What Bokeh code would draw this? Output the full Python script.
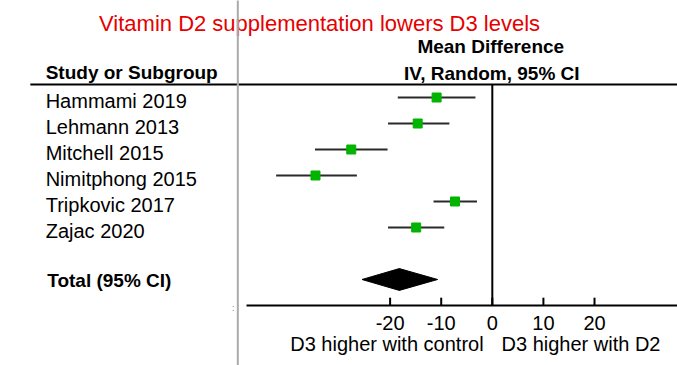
from bokeh.plotting import figure
from bokeh.models import Range1d, ColumnDataSource
from bokeh.core.properties import value
from bokeh.embed import file_html
from bokeh.resources import INLINE

# ---- data ----
studies = ["Hammami 2019", "Lehmann 2013", "Mitchell 2015", "Nimitphong 2015",
           "Tripkovic 2017", "Zajac 2020"]
mean_diff = [-10.9, -14.6, -27.6, -34.6, -7.3, -14.9]
ci_low = [-18.5, -20.4, -34.7, -42.3, -11.5, -20.4]
ci_high = [-3.3, -8.4, -20.5, -26.5, -3.0, -9.4]
total_label = "Total (95% CI)"
total_mean = -18.2
total_low = -25.5
total_high = -10.7
ticks = [-20, -10, 0, 10, 20]
tick_labels = ["-20", "-10", "0", "10", "20"]
title_text = "Vitamin D2 supplementation lowers D3 levels"
left_note = "D3 higher with control"
right_note = "D3 higher with D2"

FONT = value("Liberation Sans")

rows = list(range(len(studies)))
total_row = len(studies) + 1
axis_row = total_row + 1

p = figure(width=677, height=365, x_range=Range1d(-96.24, 36.24),
           y_range=Range1d(10.308, -3.731), output_backend="svg",
           toolbar_location=None, min_border=0,
           x_axis_type=None, y_axis_type=None)
p.grid.visible = False
p.outline_line_color = None
p.background_fill_color = "white"

X_LEFT = -87.4
X_END = 40

# title
p.text(x=[-33.8], y=[-2.85], text=[title_text], text_font=FONT,
       text_font_size="22px", text_color="#e60000",
       text_align="center", text_baseline="middle")

# headers
p.text(x=[-0.3], y=[-1.97], text=["Mean Difference"], text_font=FONT,
       text_font_size="19px", text_font_style="bold", text_color="black",
       text_align="center", text_baseline="middle")
p.text(x=[-0.1], y=[-0.93], text=["IV, Random, 95% CI"], text_font=FONT,
       text_font_size="19px", text_font_style="bold", text_color="black",
       text_align="center", text_baseline="middle")
p.text(x=[X_LEFT], y=[-0.97], text=["Study or Subgroup"], text_font=FONT,
       text_font_size="19px", text_font_style="bold", text_color="black",
       text_align="left", text_baseline="middle")

# header rule
p.segment(x0=[-90.4], y0=[-0.5], x1=[X_END], y1=[-0.5],
          line_color="black", line_width=2)

# gray separator
p.segment(x0=[-49.8], y0=[-4], x1=[-49.8], y1=[11],
          line_color="#aaaaaa", line_width=2)

# study names
p.text(x=[X_LEFT] * len(studies), y=[r + 0.13 for r in rows], text=studies,
       text_font=FONT, text_font_size="20px", text_color="black",
       text_align="left", text_baseline="middle")
p.text(x=[X_LEFT + 0.3], y=[total_row + 0.04], text=[total_label], text_font=FONT,
       text_font_size="19px", text_font_style="bold", text_color="black",
       text_align="left", text_baseline="middle")

# zero line
p.segment(x0=[0], y0=[-0.5], x1=[0], y1=[axis_row],
          line_color="black", line_width=2)

# CIs and points
src = ColumnDataSource(dict(y=rows, m=mean_diff, lo=ci_low, hi=ci_high))
p.segment(x0="lo", y0="y", x1="hi", y1="y", source=src,
          line_color="#2a2a2a", line_width=2)
p.scatter(x="m", y="y", source=src, marker="square", size=9,
          fill_color="#00b400", line_color="#00b400")

# total diamond
h = 0.42
p.patch(x=[total_low, total_mean, total_high, total_mean],
        y=[total_row, total_row - h, total_row, total_row + h],
        fill_color="black", line_color="black")

# axis
p.segment(x0=[-48.1], y0=[axis_row], x1=[X_END], y1=[axis_row],
          line_color="black", line_width=2)
p.segment(x0=ticks, y0=[axis_row - 0.3] * len(ticks), x1=ticks,
          y1=[axis_row] * len(ticks), line_color="black", line_width=2)
p.text(x=ticks, y=[axis_row + 0.69] * len(ticks), text=tick_labels,
       text_font=FONT, text_font_size="20px", text_color="black",
       text_align="center", text_baseline="middle")
p.text(x=[-1.7], y=[axis_row + 1.5], text=[left_note], text_font=FONT,
       text_font_size="20px", text_color="black",
       text_align="right", text_baseline="middle")
p.text(x=[1.8], y=[axis_row + 1.5], text=[right_note], text_font=FONT,
       text_font_size="20px", text_color="black",
       text_align="left", text_baseline="middle")
p.text(x=[-50.7], y=[axis_row + 0.1], text=[":"], text_font=FONT,
       text_font_size="9px", text_color="#888888",
       text_align="center", text_baseline="middle")

open("out.html", "w").write(file_html(p, INLINE))
